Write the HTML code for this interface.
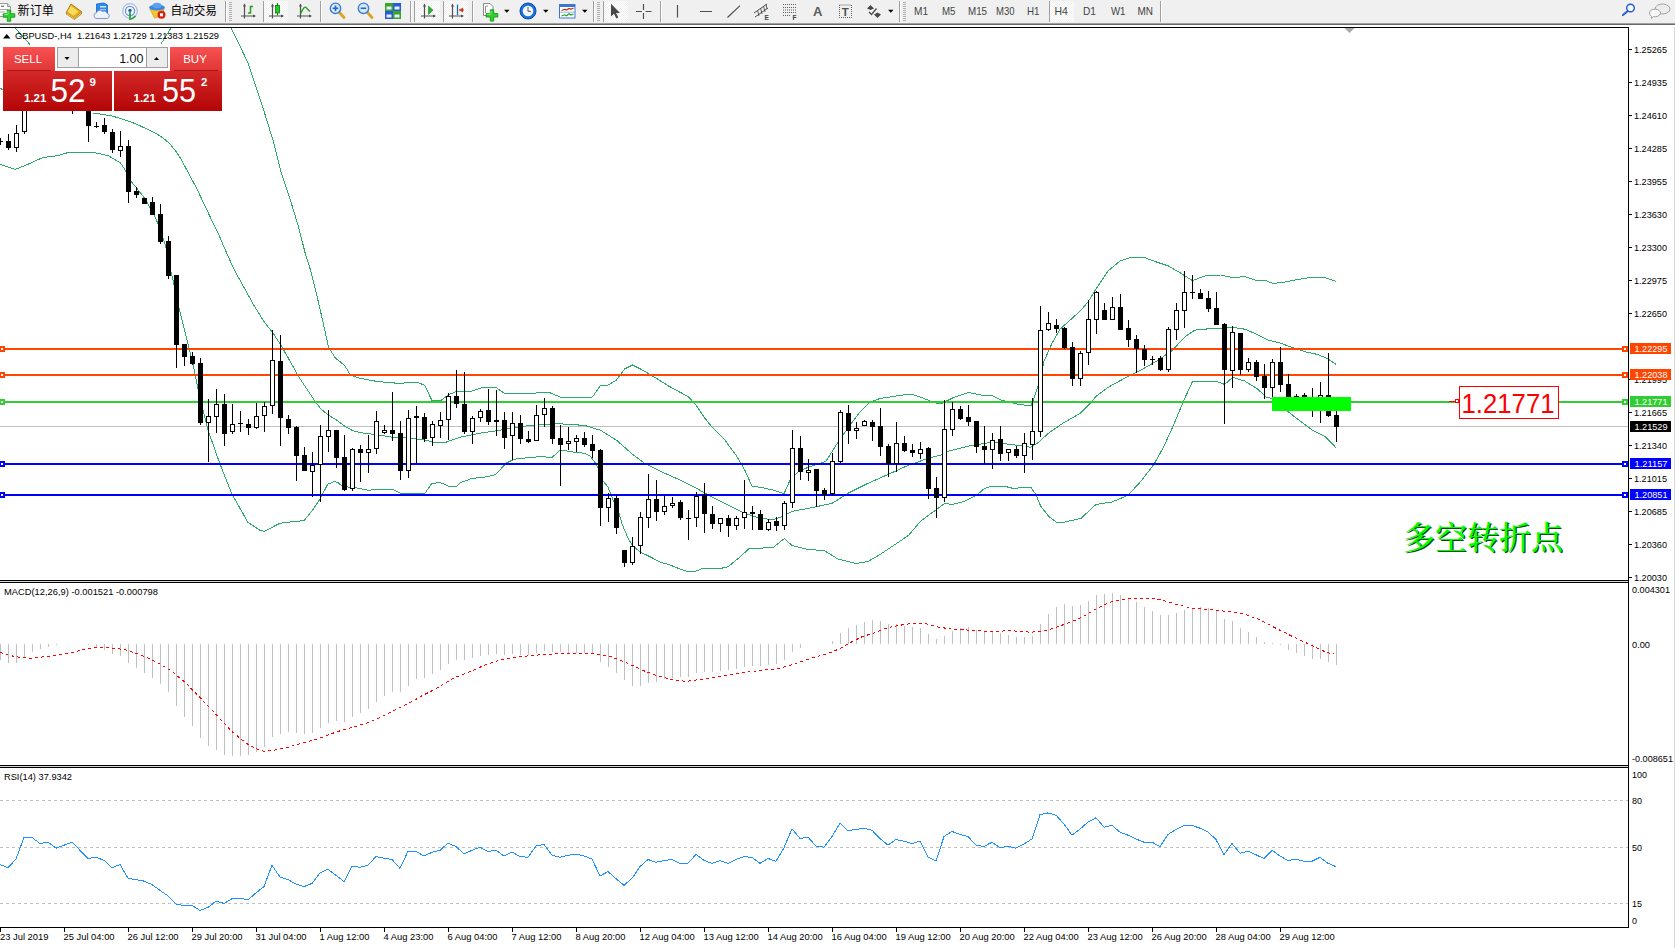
<!DOCTYPE html>
<html lang="zh"><head><meta charset="utf-8"><title>GBPUSD-,H4</title>
<style>
html,body{margin:0;padding:0;background:#fff;overflow:hidden}
svg{display:block}
text{font-family:"Liberation Sans", "Noto Sans CJK SC", sans-serif;font-size:9.5px;fill:#000}
.ax{font-size:9.5px}
.wl{fill:#fff}
.tf{font-size:10.5px;fill:#444}
.cn{font-size:12px;fill:#000}
</style></head><body>
<svg width="1675" height="948" viewBox="0 0 1675 948">
<defs>
<linearGradient id="rg" x1="0" y1="0" x2="0" y2="1"><stop offset="0" stop-color="#e03a3a"/><stop offset="0.35" stop-color="#d62a2a"/><stop offset="1" stop-color="#b30505"/></linearGradient>
<linearGradient id="rb" x1="0" y1="0" x2="0" y2="1"><stop offset="0" stop-color="#f95252"/><stop offset="1" stop-color="#e03636"/></linearGradient>
<pattern id="chk" width="2" height="2" patternUnits="userSpaceOnUse"><rect width="2" height="2" fill="#ffffff"/><rect width="1" height="1" fill="#f0f0f0"/><rect x="1" y="1" width="1" height="1" fill="#f0f0f0"/></pattern>
</defs>
<rect width="1675" height="948" fill="#fff"/>

<g id="chart" shape-rendering="crispEdges">
<rect x="0" y="426" width="1628" height="1" fill="#c0c0c0"/>
</g>
<g shape-rendering="crispEdges" stroke-linejoin="round">
<polyline points="15.0,28.0 30.0,44.4" fill="none" stroke="#2eaa68" stroke-width="1" />
<polyline points="160.7,44.4 171.0,28.0" fill="none" stroke="#2eaa68" stroke-width="1" />
<polyline points="231.0,28.0 239.5,45.0 248.0,63.0 260.8,101.0 273.4,141.5 281.0,171.8 291.0,202.2 298.7,227.5 305.1,252.8 310.5,270.0 316.5,294.0 322.5,320.0 328.6,347.3 335.6,358.3 344.6,365.3 350.6,375.4 360.7,378.4 376.7,381.4 398.8,383.4 416.8,382.0 424.9,385.4 431.9,400.5 440.9,400.5 448.9,394.4 457.0,391.4 460.0,392.0 472.0,391.0 484.0,387.0 496.0,387.5 504.0,393.0 520.0,394.0 536.0,393.0 548.0,392.0 560.0,397.0 576.4,398.0 592.4,397.0 600.4,385.5 608.4,385.0 616.5,380.0 624.5,369.0 632.5,365.0 640.5,369.0 652.6,376.0 668.6,386.0 688.7,397.0 696.7,406.0 704.7,418.0 712.8,428.0 724.8,440.0 736.8,456.3 744.9,470.3 751.9,486.0 760.9,487.4 773.0,490.0 784.0,493.8 790.0,480.3 800.0,470.3 826.0,461.2 838.0,442.2 848.0,428.0 860.0,412.0 870.0,402.0 880.0,398.5 896.3,396.0 910.4,394.0 920.4,397.0 932.5,402.0 940.5,404.0 952.5,398.0 968.6,392.4 980.6,395.0 992.6,396.0 1000.7,400.0 1016.7,404.0 1030.8,406.0 1034.8,396.0 1038.8,384.0 1044.0,361.3 1052.0,343.3 1060.0,329.2 1070.0,320.2 1080.0,311.2 1088.0,302.0 1096.0,289.0 1108.0,271.0 1120.0,261.0 1132.0,257.0 1144.0,257.4 1156.4,262.0 1168.4,266.0 1180.5,273.0 1192.5,280.7 1204.6,276.0 1220.6,275.0 1232.6,277.5 1244.7,276.7 1256.7,280.7 1264.7,280.0 1272.8,283.5 1284.8,282.0 1300.8,279.0 1310.9,277.5 1324.9,277.5 1336.0,281.5" fill="none" stroke="#2eaa68" stroke-width="1" />
<polyline points="0.0,87.8 3.0,90.0" fill="none" stroke="#2eaa68" stroke-width="1" />
<polyline points="93.3,113.0 112.3,116.0 120.4,118.5 130.4,121.7 140.4,126.0 148.4,129.7 156.5,133.7 164.5,139.1 170.5,144.5 176.5,152.2 180.5,158.2 188.6,173.2 196.6,188.3 204.2,204.3 211.8,220.4 219.5,236.4 225.3,250.0 234.3,270.0 244.3,288.0 254.3,306.0 264.4,322.2 272.4,332.2 280.4,344.3 288.4,358.3 298.5,376.4 306.5,388.4 314.5,400.5 320.5,408.5 328.6,415.3 336.6,420.0 344.6,426.0 352.6,430.7 360.7,432.8 376.7,434.6 392.8,437.3 408.8,438.0 424.9,440.0 436.9,443.0 445.0,442.5 461.0,437.0 480.0,433.2 500.0,430.2 520.0,426.6 540.0,424.6 560.3,423.8 584.4,425.4 600.4,430.2 616.5,440.2 632.5,454.3 644.6,463.3 660.6,471.3 680.7,480.4 696.7,488.4 712.8,497.4 728.8,505.4 744.9,513.5 760.9,518.5 773.0,519.5 780.0,517.4 792.0,511.4 808.0,508.4 832.0,503.4 848.0,493.3 868.0,483.3 888.3,474.3 908.4,465.3 928.4,458.2 940.5,455.2 948.5,451.2 972.6,445.2 992.6,442.2 1016.7,445.2 1030.8,447.2 1038.8,442.2 1048.0,433.5 1064.0,422.5 1080.0,413.5 1090.0,403.4 1096.0,396.4 1108.0,387.4 1124.3,378.4 1140.4,370.3 1156.4,361.3 1172.5,350.3 1184.5,337.2 1194.5,330.2 1208.6,328.8 1220.6,328.2 1232.6,327.2 1244.7,329.2 1256.7,334.2 1268.7,340.3 1280.8,343.3 1292.8,347.7 1304.9,351.7 1316.9,354.3 1326.9,358.3 1336.0,364.3" fill="none" stroke="#2eaa68" stroke-width="1" />
<polyline points="0.0,164.4 15.0,169.4 25.0,165.6 42.7,157.6 57.7,155.6 67.8,152.6 92.9,152.3 108.0,155.6 120.5,163.0 125.5,170.6 130.5,180.7 136.8,188.2 145.6,199.5 153.0,213.3 158.0,223.4 165.7,246.0 168.5,262.0 173.0,280.0 179.0,308.0 186.0,336.0 192.5,362.0 198.0,388.4 203.0,410.5 208.6,432.0 220.0,464.0 232.0,494.3 248.0,522.4 260.0,530.4 264.4,531.4 278.4,524.0 284.4,522.4 298.5,521.4 304.5,520.0 312.5,510.3 320.5,498.3 327.6,484.3 333.6,481.8 337.6,482.2 342.6,486.7 352.6,487.3 360.7,488.7 368.7,490.3 376.7,489.3 392.8,489.3 400.8,493.3 424.9,493.3 431.9,483.2 440.9,482.8 448.9,486.3 457.0,486.3 460.0,482.8 472.0,478.4 488.0,476.7 496.0,474.3 506.0,463.3 514.0,459.3 526.0,457.9 540.0,456.7 552.3,457.3 560.3,449.9 572.3,451.9 584.4,453.3 590.4,456.3 596.4,464.3 603.0,481.0 608.0,487.0 613.0,500.0 619.0,513.0 622.0,524.0 628.0,538.0 632.0,545.0 640.0,552.0 650.0,556.7 660.0,562.0 670.0,565.0 680.0,569.0 688.4,572.0 696.4,571.0 703.4,568.0 722.5,568.0 728.0,566.8 740.0,557.0 749.0,548.6 773.0,547.6 784.4,538.5 792.0,545.5 808.0,549.5 824.0,550.5 838.0,559.0 856.0,563.5 868.0,561.5 880.0,554.5 892.0,546.5 908.4,535.5 920.4,521.4 932.5,512.4 944.5,503.4 952.5,504.4 964.6,501.4 976.6,495.3 984.6,488.3 992.6,486.0 1004.7,486.3 1012.7,488.3 1030.8,487.3 1035.8,494.3 1040.8,506.4 1048.8,516.4 1056.8,522.4 1064.9,522.0 1080.9,518.4 1096.0,504.4 1112.0,502.0 1128.0,495.3 1140.0,482.3 1154.0,464.3 1164.0,446.2 1174.0,424.0 1184.0,400.0 1192.5,381.4 1216.6,381.4 1224.6,384.4 1232.6,377.4 1244.7,381.0 1256.7,388.4 1266.7,397.4 1272.0,398.4 1280.0,405.0 1287.8,411.5 1300.8,421.5 1312.9,430.5 1324.9,436.5 1333.0,444.6 1336.0,447.8" fill="none" stroke="#2eaa68" stroke-width="1" />
</g>
<g shape-rendering="crispEdges">
<rect x="0" y="348" width="1628" height="2" fill="#ff4500"/>
<rect x="-1" y="346" width="6" height="6" fill="#ff4500"/><rect x="1" y="348" width="2" height="2" fill="#fff"/>
<rect x="1622" y="346" width="6" height="6" fill="#ff4500"/><rect x="1624" y="348" width="2" height="2" fill="#fff"/>
<rect x="0" y="374" width="1628" height="2" fill="#ff4500"/>
<rect x="-1" y="372" width="6" height="6" fill="#ff4500"/><rect x="1" y="374" width="2" height="2" fill="#fff"/>
<rect x="1622" y="372" width="6" height="6" fill="#ff4500"/><rect x="1624" y="374" width="2" height="2" fill="#fff"/>
<rect x="0" y="401" width="1628" height="2" fill="#32cd32"/>
<rect x="-1" y="399" width="6" height="6" fill="#32cd32"/><rect x="1" y="401" width="2" height="2" fill="#fff"/>
<rect x="1622" y="399" width="6" height="6" fill="#32cd32"/><rect x="1624" y="401" width="2" height="2" fill="#fff"/>
<rect x="0" y="463" width="1628" height="2" fill="#0000ff"/>
<rect x="-1" y="461" width="6" height="6" fill="#0000ff"/><rect x="1" y="463" width="2" height="2" fill="#fff"/>
<rect x="1622" y="461" width="6" height="6" fill="#0000ff"/><rect x="1624" y="463" width="2" height="2" fill="#fff"/>
<rect x="0" y="494" width="1628" height="2" fill="#0000ff"/>
<rect x="-1" y="492" width="6" height="6" fill="#0000ff"/><rect x="1" y="494" width="2" height="2" fill="#fff"/>
<rect x="1622" y="492" width="6" height="6" fill="#0000ff"/><rect x="1624" y="494" width="2" height="2" fill="#fff"/>
<rect x="0" y="138" width="1" height="7" fill="#000"/>
<rect x="-2" y="141" width="5" height="1" fill="#000"/>
<rect x="8" y="134" width="1" height="16" fill="#000"/>
<rect x="6" y="141" width="5" height="7" fill="#000"/>
<rect x="16" y="125" width="1" height="27" fill="#000"/>
<rect x="14" y="133" width="5" height="15" fill="#000"/>
<rect x="15" y="134" width="3" height="13" fill="#fff"/>
<rect x="24" y="100" width="1" height="34" fill="#000"/>
<rect x="22" y="100" width="5" height="32" fill="#000"/>
<rect x="23" y="101" width="3" height="30" fill="#fff"/>
<rect x="72" y="100" width="1" height="14" fill="#000"/>
<rect x="70" y="100" width="5" height="1" fill="#000"/>
<rect x="88" y="100" width="1" height="42" fill="#000"/>
<rect x="86" y="100" width="5" height="26" fill="#000"/>
<rect x="96" y="122" width="1" height="6" fill="#000"/>
<rect x="94" y="126" width="5" height="1" fill="#000"/>
<rect x="104" y="118" width="1" height="16" fill="#000"/>
<rect x="102" y="125" width="5" height="7" fill="#000"/>
<rect x="112" y="129" width="1" height="24" fill="#000"/>
<rect x="110" y="132" width="5" height="18" fill="#000"/>
<rect x="120" y="131" width="1" height="26" fill="#000"/>
<rect x="118" y="146" width="5" height="5" fill="#000"/>
<rect x="119" y="147" width="3" height="3" fill="#fff"/>
<rect x="128" y="140" width="1" height="63" fill="#000"/>
<rect x="126" y="146" width="5" height="46" fill="#000"/>
<rect x="136" y="187" width="1" height="11" fill="#000"/>
<rect x="134" y="191" width="5" height="4" fill="#000"/>
<rect x="144" y="198" width="1" height="6" fill="#000"/>
<rect x="142" y="198" width="5" height="6" fill="#000"/>
<rect x="152" y="197" width="1" height="18" fill="#000"/>
<rect x="150" y="202" width="5" height="13" fill="#000"/>
<rect x="160" y="204" width="1" height="40" fill="#000"/>
<rect x="158" y="214" width="5" height="28" fill="#000"/>
<rect x="168" y="236" width="1" height="43" fill="#000"/>
<rect x="166" y="241" width="5" height="35" fill="#000"/>
<rect x="176" y="275" width="1" height="93" fill="#000"/>
<rect x="174" y="275" width="5" height="70" fill="#000"/>
<rect x="184" y="344" width="1" height="22" fill="#000"/>
<rect x="182" y="344" width="5" height="13" fill="#000"/>
<rect x="192" y="352" width="1" height="13" fill="#000"/>
<rect x="190" y="356" width="5" height="8" fill="#000"/>
<rect x="200" y="358" width="1" height="67" fill="#000"/>
<rect x="198" y="363" width="5" height="60" fill="#000"/>
<rect x="208" y="399" width="1" height="63" fill="#000"/>
<rect x="206" y="416" width="5" height="7" fill="#000"/>
<rect x="207" y="417" width="3" height="5" fill="#fff"/>
<rect x="216" y="389" width="1" height="44" fill="#000"/>
<rect x="214" y="404" width="5" height="13" fill="#000"/>
<rect x="215" y="405" width="3" height="11" fill="#fff"/>
<rect x="224" y="394" width="1" height="52" fill="#000"/>
<rect x="222" y="404" width="5" height="30" fill="#000"/>
<rect x="232" y="404" width="1" height="30" fill="#000"/>
<rect x="230" y="424" width="5" height="8" fill="#000"/>
<rect x="231" y="425" width="3" height="6" fill="#fff"/>
<rect x="240" y="411" width="1" height="21" fill="#000"/>
<rect x="238" y="423" width="5" height="1" fill="#000"/>
<rect x="248" y="419" width="1" height="16" fill="#000"/>
<rect x="246" y="424" width="5" height="4" fill="#000"/>
<rect x="256" y="403" width="1" height="26" fill="#000"/>
<rect x="254" y="416" width="5" height="12" fill="#000"/>
<rect x="255" y="417" width="3" height="10" fill="#fff"/>
<rect x="264" y="402" width="1" height="30" fill="#000"/>
<rect x="262" y="406" width="5" height="10" fill="#000"/>
<rect x="263" y="407" width="3" height="8" fill="#fff"/>
<rect x="272" y="330" width="1" height="84" fill="#000"/>
<rect x="270" y="360" width="5" height="46" fill="#000"/>
<rect x="271" y="361" width="3" height="44" fill="#fff"/>
<rect x="280" y="335" width="1" height="111" fill="#000"/>
<rect x="278" y="361" width="5" height="57" fill="#000"/>
<rect x="288" y="415" width="1" height="19" fill="#000"/>
<rect x="286" y="419" width="5" height="9" fill="#000"/>
<rect x="296" y="426" width="1" height="55" fill="#000"/>
<rect x="294" y="427" width="5" height="29" fill="#000"/>
<rect x="304" y="447" width="1" height="24" fill="#000"/>
<rect x="302" y="455" width="5" height="16" fill="#000"/>
<rect x="312" y="452" width="1" height="45" fill="#000"/>
<rect x="310" y="465" width="5" height="7" fill="#000"/>
<rect x="311" y="466" width="3" height="5" fill="#fff"/>
<rect x="320" y="425" width="1" height="77" fill="#000"/>
<rect x="318" y="436" width="5" height="29" fill="#000"/>
<rect x="319" y="437" width="3" height="27" fill="#fff"/>
<rect x="328" y="410" width="1" height="42" fill="#000"/>
<rect x="326" y="430" width="5" height="7" fill="#000"/>
<rect x="327" y="431" width="3" height="5" fill="#fff"/>
<rect x="336" y="430" width="1" height="38" fill="#000"/>
<rect x="334" y="430" width="5" height="28" fill="#000"/>
<rect x="344" y="435" width="1" height="56" fill="#000"/>
<rect x="342" y="457" width="5" height="33" fill="#000"/>
<rect x="352" y="448" width="1" height="43" fill="#000"/>
<rect x="350" y="449" width="5" height="40" fill="#000"/>
<rect x="351" y="450" width="3" height="38" fill="#fff"/>
<rect x="360" y="445" width="1" height="37" fill="#000"/>
<rect x="358" y="449" width="5" height="4" fill="#000"/>
<rect x="368" y="435" width="1" height="38" fill="#000"/>
<rect x="366" y="449" width="5" height="4" fill="#000"/>
<rect x="367" y="450" width="3" height="2" fill="#fff"/>
<rect x="376" y="411" width="1" height="43" fill="#000"/>
<rect x="374" y="421" width="5" height="28" fill="#000"/>
<rect x="375" y="422" width="3" height="26" fill="#fff"/>
<rect x="384" y="425" width="1" height="9" fill="#000"/>
<rect x="382" y="430" width="5" height="3" fill="#000"/>
<rect x="383" y="431" width="3" height="1" fill="#fff"/>
<rect x="392" y="392" width="1" height="49" fill="#000"/>
<rect x="390" y="430" width="5" height="4" fill="#000"/>
<rect x="400" y="421" width="1" height="59" fill="#000"/>
<rect x="398" y="433" width="5" height="38" fill="#000"/>
<rect x="408" y="410" width="1" height="68" fill="#000"/>
<rect x="406" y="418" width="5" height="53" fill="#000"/>
<rect x="407" y="419" width="3" height="51" fill="#fff"/>
<rect x="416" y="406" width="1" height="57" fill="#000"/>
<rect x="414" y="416" width="5" height="2" fill="#000"/>
<rect x="424" y="413" width="1" height="29" fill="#000"/>
<rect x="422" y="417" width="5" height="22" fill="#000"/>
<rect x="432" y="421" width="1" height="25" fill="#000"/>
<rect x="430" y="424" width="5" height="14" fill="#000"/>
<rect x="431" y="425" width="3" height="12" fill="#fff"/>
<rect x="440" y="412" width="1" height="26" fill="#000"/>
<rect x="438" y="420" width="5" height="6" fill="#000"/>
<rect x="439" y="421" width="3" height="4" fill="#fff"/>
<rect x="448" y="393" width="1" height="47" fill="#000"/>
<rect x="446" y="396" width="5" height="24" fill="#000"/>
<rect x="447" y="397" width="3" height="22" fill="#fff"/>
<rect x="456" y="370" width="1" height="38" fill="#000"/>
<rect x="454" y="396" width="5" height="8" fill="#000"/>
<rect x="464" y="372" width="1" height="62" fill="#000"/>
<rect x="462" y="404" width="5" height="28" fill="#000"/>
<rect x="472" y="416" width="1" height="28" fill="#000"/>
<rect x="470" y="418" width="5" height="14" fill="#000"/>
<rect x="471" y="419" width="3" height="12" fill="#fff"/>
<rect x="480" y="409" width="1" height="13" fill="#000"/>
<rect x="478" y="411" width="5" height="7" fill="#000"/>
<rect x="479" y="412" width="3" height="5" fill="#fff"/>
<rect x="488" y="389" width="1" height="36" fill="#000"/>
<rect x="486" y="410" width="5" height="12" fill="#000"/>
<rect x="496" y="390" width="1" height="46" fill="#000"/>
<rect x="494" y="420" width="5" height="2" fill="#000"/>
<rect x="504" y="412" width="1" height="37" fill="#000"/>
<rect x="502" y="420" width="5" height="18" fill="#000"/>
<rect x="512" y="412" width="1" height="48" fill="#000"/>
<rect x="510" y="423" width="5" height="13" fill="#000"/>
<rect x="511" y="424" width="3" height="11" fill="#fff"/>
<rect x="520" y="415" width="1" height="29" fill="#000"/>
<rect x="518" y="423" width="5" height="16" fill="#000"/>
<rect x="528" y="431" width="1" height="12" fill="#000"/>
<rect x="526" y="439" width="5" height="3" fill="#000"/>
<rect x="536" y="405" width="1" height="36" fill="#000"/>
<rect x="534" y="415" width="5" height="26" fill="#000"/>
<rect x="535" y="416" width="3" height="24" fill="#fff"/>
<rect x="544" y="398" width="1" height="29" fill="#000"/>
<rect x="542" y="408" width="5" height="7" fill="#000"/>
<rect x="543" y="409" width="3" height="5" fill="#fff"/>
<rect x="552" y="406" width="1" height="38" fill="#000"/>
<rect x="550" y="408" width="5" height="31" fill="#000"/>
<rect x="560" y="425" width="1" height="61" fill="#000"/>
<rect x="558" y="438" width="5" height="7" fill="#000"/>
<rect x="568" y="427" width="1" height="23" fill="#000"/>
<rect x="566" y="441" width="5" height="3" fill="#000"/>
<rect x="567" y="442" width="3" height="1" fill="#fff"/>
<rect x="576" y="435" width="1" height="17" fill="#000"/>
<rect x="574" y="438" width="5" height="4" fill="#000"/>
<rect x="575" y="439" width="3" height="2" fill="#fff"/>
<rect x="584" y="432" width="1" height="15" fill="#000"/>
<rect x="582" y="438" width="5" height="7" fill="#000"/>
<rect x="592" y="435" width="1" height="23" fill="#000"/>
<rect x="590" y="444" width="5" height="7" fill="#000"/>
<rect x="600" y="449" width="1" height="77" fill="#000"/>
<rect x="598" y="450" width="5" height="58" fill="#000"/>
<rect x="608" y="493" width="1" height="29" fill="#000"/>
<rect x="606" y="498" width="5" height="10" fill="#000"/>
<rect x="607" y="499" width="3" height="8" fill="#fff"/>
<rect x="616" y="495" width="1" height="39" fill="#000"/>
<rect x="614" y="498" width="5" height="30" fill="#000"/>
<rect x="624" y="550" width="1" height="17" fill="#000"/>
<rect x="622" y="550" width="5" height="13" fill="#000"/>
<rect x="632" y="537" width="1" height="28" fill="#000"/>
<rect x="630" y="546" width="5" height="17" fill="#000"/>
<rect x="631" y="547" width="3" height="15" fill="#fff"/>
<rect x="640" y="512" width="1" height="42" fill="#000"/>
<rect x="638" y="517" width="5" height="29" fill="#000"/>
<rect x="639" y="518" width="3" height="27" fill="#fff"/>
<rect x="648" y="474" width="1" height="54" fill="#000"/>
<rect x="646" y="499" width="5" height="19" fill="#000"/>
<rect x="647" y="500" width="3" height="17" fill="#fff"/>
<rect x="656" y="480" width="1" height="41" fill="#000"/>
<rect x="654" y="499" width="5" height="13" fill="#000"/>
<rect x="664" y="496" width="1" height="19" fill="#000"/>
<rect x="662" y="506" width="5" height="6" fill="#000"/>
<rect x="663" y="507" width="3" height="4" fill="#fff"/>
<rect x="672" y="497" width="1" height="11" fill="#000"/>
<rect x="670" y="503" width="5" height="3" fill="#000"/>
<rect x="671" y="504" width="3" height="1" fill="#fff"/>
<rect x="680" y="500" width="1" height="20" fill="#000"/>
<rect x="678" y="502" width="5" height="16" fill="#000"/>
<rect x="688" y="510" width="1" height="30" fill="#000"/>
<rect x="686" y="518" width="5" height="1" fill="#000"/>
<rect x="696" y="492" width="1" height="35" fill="#000"/>
<rect x="694" y="496" width="5" height="22" fill="#000"/>
<rect x="695" y="497" width="3" height="20" fill="#fff"/>
<rect x="704" y="483" width="1" height="50" fill="#000"/>
<rect x="702" y="495" width="5" height="19" fill="#000"/>
<rect x="712" y="506" width="1" height="23" fill="#000"/>
<rect x="710" y="514" width="5" height="10" fill="#000"/>
<rect x="720" y="518" width="1" height="14" fill="#000"/>
<rect x="718" y="518" width="5" height="6" fill="#000"/>
<rect x="719" y="519" width="3" height="4" fill="#fff"/>
<rect x="728" y="515" width="1" height="22" fill="#000"/>
<rect x="726" y="518" width="5" height="8" fill="#000"/>
<rect x="736" y="516" width="1" height="14" fill="#000"/>
<rect x="734" y="518" width="5" height="8" fill="#000"/>
<rect x="735" y="519" width="3" height="6" fill="#fff"/>
<rect x="744" y="480" width="1" height="49" fill="#000"/>
<rect x="742" y="512" width="5" height="6" fill="#000"/>
<rect x="743" y="513" width="3" height="4" fill="#fff"/>
<rect x="752" y="506" width="1" height="24" fill="#000"/>
<rect x="750" y="512" width="5" height="2" fill="#000"/>
<rect x="760" y="510" width="1" height="20" fill="#000"/>
<rect x="758" y="514" width="5" height="16" fill="#000"/>
<rect x="768" y="519" width="1" height="12" fill="#000"/>
<rect x="766" y="522" width="5" height="8" fill="#000"/>
<rect x="767" y="523" width="3" height="6" fill="#fff"/>
<rect x="776" y="517" width="1" height="14" fill="#000"/>
<rect x="774" y="521" width="5" height="5" fill="#000"/>
<rect x="784" y="501" width="1" height="29" fill="#000"/>
<rect x="782" y="503" width="5" height="23" fill="#000"/>
<rect x="783" y="504" width="3" height="21" fill="#fff"/>
<rect x="792" y="430" width="1" height="78" fill="#000"/>
<rect x="790" y="448" width="5" height="55" fill="#000"/>
<rect x="791" y="449" width="3" height="53" fill="#fff"/>
<rect x="800" y="436" width="1" height="44" fill="#000"/>
<rect x="798" y="448" width="5" height="24" fill="#000"/>
<rect x="808" y="459" width="1" height="22" fill="#000"/>
<rect x="806" y="470" width="5" height="3" fill="#000"/>
<rect x="807" y="471" width="3" height="1" fill="#fff"/>
<rect x="816" y="469" width="1" height="38" fill="#000"/>
<rect x="814" y="469" width="5" height="22" fill="#000"/>
<rect x="824" y="488" width="1" height="12" fill="#000"/>
<rect x="822" y="490" width="5" height="5" fill="#000"/>
<rect x="832" y="453" width="1" height="43" fill="#000"/>
<rect x="830" y="461" width="5" height="33" fill="#000"/>
<rect x="831" y="462" width="3" height="31" fill="#fff"/>
<rect x="840" y="410" width="1" height="53" fill="#000"/>
<rect x="838" y="412" width="5" height="50" fill="#000"/>
<rect x="839" y="413" width="3" height="48" fill="#fff"/>
<rect x="848" y="405" width="1" height="39" fill="#000"/>
<rect x="846" y="413" width="5" height="18" fill="#000"/>
<rect x="856" y="422" width="1" height="17" fill="#000"/>
<rect x="854" y="428" width="5" height="3" fill="#000"/>
<rect x="855" y="429" width="3" height="1" fill="#fff"/>
<rect x="864" y="420" width="1" height="6" fill="#000"/>
<rect x="862" y="421" width="5" height="5" fill="#000"/>
<rect x="863" y="422" width="3" height="3" fill="#fff"/>
<rect x="872" y="420" width="1" height="21" fill="#000"/>
<rect x="870" y="422" width="5" height="5" fill="#000"/>
<rect x="880" y="408" width="1" height="48" fill="#000"/>
<rect x="878" y="426" width="5" height="21" fill="#000"/>
<rect x="888" y="444" width="1" height="33" fill="#000"/>
<rect x="886" y="446" width="5" height="18" fill="#000"/>
<rect x="896" y="422" width="1" height="50" fill="#000"/>
<rect x="894" y="443" width="5" height="21" fill="#000"/>
<rect x="895" y="444" width="3" height="19" fill="#fff"/>
<rect x="904" y="436" width="1" height="16" fill="#000"/>
<rect x="902" y="443" width="5" height="8" fill="#000"/>
<rect x="912" y="444" width="1" height="13" fill="#000"/>
<rect x="910" y="450" width="5" height="3" fill="#000"/>
<rect x="920" y="442" width="1" height="17" fill="#000"/>
<rect x="918" y="449" width="5" height="5" fill="#000"/>
<rect x="919" y="450" width="3" height="3" fill="#fff"/>
<rect x="928" y="447" width="1" height="52" fill="#000"/>
<rect x="926" y="448" width="5" height="41" fill="#000"/>
<rect x="936" y="477" width="1" height="41" fill="#000"/>
<rect x="934" y="488" width="5" height="10" fill="#000"/>
<rect x="944" y="400" width="1" height="102" fill="#000"/>
<rect x="942" y="429" width="5" height="69" fill="#000"/>
<rect x="943" y="430" width="3" height="67" fill="#fff"/>
<rect x="952" y="402" width="1" height="34" fill="#000"/>
<rect x="950" y="409" width="5" height="21" fill="#000"/>
<rect x="951" y="410" width="3" height="19" fill="#fff"/>
<rect x="960" y="406" width="1" height="14" fill="#000"/>
<rect x="958" y="409" width="5" height="10" fill="#000"/>
<rect x="968" y="405" width="1" height="21" fill="#000"/>
<rect x="966" y="417" width="5" height="5" fill="#000"/>
<rect x="976" y="421" width="1" height="32" fill="#000"/>
<rect x="974" y="421" width="5" height="26" fill="#000"/>
<rect x="984" y="426" width="1" height="38" fill="#000"/>
<rect x="982" y="446" width="5" height="4" fill="#000"/>
<rect x="992" y="433" width="1" height="36" fill="#000"/>
<rect x="990" y="440" width="5" height="10" fill="#000"/>
<rect x="991" y="441" width="3" height="8" fill="#fff"/>
<rect x="1000" y="426" width="1" height="35" fill="#000"/>
<rect x="998" y="439" width="5" height="15" fill="#000"/>
<rect x="1008" y="449" width="1" height="12" fill="#000"/>
<rect x="1006" y="449" width="5" height="4" fill="#000"/>
<rect x="1007" y="450" width="3" height="2" fill="#fff"/>
<rect x="1016" y="446" width="1" height="12" fill="#000"/>
<rect x="1014" y="449" width="5" height="7" fill="#000"/>
<rect x="1024" y="433" width="1" height="40" fill="#000"/>
<rect x="1022" y="443" width="5" height="13" fill="#000"/>
<rect x="1023" y="444" width="3" height="11" fill="#fff"/>
<rect x="1032" y="398" width="1" height="62" fill="#000"/>
<rect x="1030" y="431" width="5" height="14" fill="#000"/>
<rect x="1031" y="432" width="3" height="12" fill="#fff"/>
<rect x="1040" y="306" width="1" height="131" fill="#000"/>
<rect x="1038" y="330" width="5" height="102" fill="#000"/>
<rect x="1039" y="331" width="3" height="100" fill="#fff"/>
<rect x="1048" y="312" width="1" height="19" fill="#000"/>
<rect x="1046" y="323" width="5" height="7" fill="#000"/>
<rect x="1047" y="324" width="3" height="5" fill="#fff"/>
<rect x="1056" y="319" width="1" height="14" fill="#000"/>
<rect x="1054" y="325" width="5" height="4" fill="#000"/>
<rect x="1064" y="327" width="1" height="22" fill="#000"/>
<rect x="1062" y="328" width="5" height="20" fill="#000"/>
<rect x="1072" y="342" width="1" height="44" fill="#000"/>
<rect x="1070" y="347" width="5" height="32" fill="#000"/>
<rect x="1080" y="351" width="1" height="35" fill="#000"/>
<rect x="1078" y="353" width="5" height="26" fill="#000"/>
<rect x="1079" y="354" width="3" height="24" fill="#fff"/>
<rect x="1088" y="300" width="1" height="65" fill="#000"/>
<rect x="1086" y="319" width="5" height="34" fill="#000"/>
<rect x="1087" y="320" width="3" height="32" fill="#fff"/>
<rect x="1096" y="291" width="1" height="43" fill="#000"/>
<rect x="1094" y="292" width="5" height="28" fill="#000"/>
<rect x="1095" y="293" width="3" height="26" fill="#fff"/>
<rect x="1104" y="303" width="1" height="17" fill="#000"/>
<rect x="1102" y="310" width="5" height="10" fill="#000"/>
<rect x="1112" y="297" width="1" height="23" fill="#000"/>
<rect x="1110" y="307" width="5" height="13" fill="#000"/>
<rect x="1111" y="308" width="3" height="11" fill="#fff"/>
<rect x="1120" y="294" width="1" height="36" fill="#000"/>
<rect x="1118" y="307" width="5" height="23" fill="#000"/>
<rect x="1128" y="320" width="1" height="27" fill="#000"/>
<rect x="1126" y="328" width="5" height="12" fill="#000"/>
<rect x="1136" y="335" width="1" height="38" fill="#000"/>
<rect x="1134" y="339" width="5" height="10" fill="#000"/>
<rect x="1144" y="345" width="1" height="21" fill="#000"/>
<rect x="1142" y="349" width="5" height="11" fill="#000"/>
<rect x="1152" y="356" width="1" height="9" fill="#000"/>
<rect x="1150" y="359" width="5" height="1" fill="#000"/>
<rect x="1160" y="356" width="1" height="15" fill="#000"/>
<rect x="1158" y="358" width="5" height="12" fill="#000"/>
<rect x="1168" y="327" width="1" height="45" fill="#000"/>
<rect x="1166" y="329" width="5" height="41" fill="#000"/>
<rect x="1167" y="330" width="3" height="39" fill="#fff"/>
<rect x="1176" y="303" width="1" height="37" fill="#000"/>
<rect x="1174" y="310" width="5" height="20" fill="#000"/>
<rect x="1175" y="311" width="3" height="18" fill="#fff"/>
<rect x="1184" y="271" width="1" height="57" fill="#000"/>
<rect x="1182" y="292" width="5" height="19" fill="#000"/>
<rect x="1183" y="293" width="3" height="17" fill="#fff"/>
<rect x="1192" y="275" width="1" height="24" fill="#000"/>
<rect x="1190" y="292" width="5" height="1" fill="#000"/>
<rect x="1200" y="289" width="1" height="10" fill="#000"/>
<rect x="1198" y="293" width="5" height="6" fill="#000"/>
<rect x="1208" y="291" width="1" height="21" fill="#000"/>
<rect x="1206" y="298" width="5" height="11" fill="#000"/>
<rect x="1216" y="292" width="1" height="33" fill="#000"/>
<rect x="1214" y="308" width="5" height="17" fill="#000"/>
<rect x="1224" y="323" width="1" height="101" fill="#000"/>
<rect x="1222" y="324" width="5" height="46" fill="#000"/>
<rect x="1232" y="326" width="1" height="62" fill="#000"/>
<rect x="1230" y="332" width="5" height="39" fill="#000"/>
<rect x="1231" y="333" width="3" height="37" fill="#fff"/>
<rect x="1240" y="333" width="1" height="42" fill="#000"/>
<rect x="1238" y="333" width="5" height="37" fill="#000"/>
<rect x="1248" y="358" width="1" height="14" fill="#000"/>
<rect x="1246" y="362" width="5" height="8" fill="#000"/>
<rect x="1247" y="363" width="3" height="6" fill="#fff"/>
<rect x="1256" y="360" width="1" height="21" fill="#000"/>
<rect x="1254" y="362" width="5" height="15" fill="#000"/>
<rect x="1264" y="364" width="1" height="35" fill="#000"/>
<rect x="1262" y="376" width="5" height="12" fill="#000"/>
<rect x="1272" y="359" width="1" height="39" fill="#000"/>
<rect x="1270" y="362" width="5" height="26" fill="#000"/>
<rect x="1271" y="363" width="3" height="24" fill="#fff"/>
<rect x="1280" y="347" width="1" height="45" fill="#000"/>
<rect x="1278" y="362" width="5" height="23" fill="#000"/>
<rect x="1288" y="374" width="1" height="28" fill="#000"/>
<rect x="1286" y="384" width="5" height="14" fill="#000"/>
<rect x="1296" y="394" width="1" height="8" fill="#000"/>
<rect x="1294" y="396" width="5" height="2" fill="#000"/>
<rect x="1304" y="393" width="1" height="9" fill="#000"/>
<rect x="1302" y="395" width="5" height="4" fill="#000"/>
<rect x="1312" y="388" width="1" height="29" fill="#000"/>
<rect x="1310" y="400" width="5" height="1" fill="#000"/>
<rect x="1320" y="382" width="1" height="41" fill="#000"/>
<rect x="1318" y="395" width="5" height="5" fill="#000"/>
<rect x="1319" y="396" width="3" height="3" fill="#fff"/>
<rect x="1328" y="353" width="1" height="64" fill="#000"/>
<rect x="1326" y="395" width="5" height="21" fill="#000"/>
<rect x="1336" y="411" width="1" height="31" fill="#000"/>
<rect x="1334" y="415" width="5" height="12" fill="#000"/>
<rect x="1272" y="397" width="79" height="14" fill="#00ff00"/>
</g>
<g shape-rendering="crispEdges"><rect x="1449" y="401" width="8" height="1" fill="#ff0000"/><rect x="1455.5" y="399.5" width="3" height="3" fill="#fff" stroke="#ff0000"/>
<rect x="1459.5" y="386.5" width="99" height="32" fill="#fff" stroke="#ff0000" stroke-width="1"/></g>
<text x="1461.500" y="413" textLength="93" lengthAdjust="spacingAndGlyphs" style="font-size:27.5px;fill:#ff0000">1.21771</text>
<text x="1404.200" y="549.700" textLength="160" lengthAdjust="spacingAndGlyphs" style="font-size:32px;font-weight:500;fill:#0a4a0a;font-family:'Liberation Serif', 'Noto Serif CJK SC', serif">多空转折点</text>
<text x="1403" y="548.500" textLength="160" lengthAdjust="spacingAndGlyphs" style="font-size:32px;font-weight:500;fill:#00ff00;font-family:'Liberation Serif', 'Noto Serif CJK SC', serif">多空转折点</text>
<g shape-rendering="crispEdges">
<rect x="3" y="47" width="109" height="64" fill="url(#rg)"/>
<rect x="114" y="47" width="108" height="64" fill="url(#rg)"/>
<rect x="3" y="47" width="52" height="24" fill="url(#rb)"/>
<rect x="170" y="47" width="52" height="24" fill="url(#rb)"/>
<rect x="7" y="70" width="44" height="1" fill="#a81818"/>
<rect x="174" y="70" width="44" height="1" fill="#a81818"/>
<rect x="55" y="47" width="115" height="24" fill="#fff"/>
<rect x="57.5" y="47.500" width="110" height="20" fill="#fff" stroke="#a0a0a0"/>
<rect x="58" y="48" width="20" height="19" fill="#ececec"/>
<rect x="147" y="48" width="20" height="19" fill="#ececec"/>
<rect x="78" y="48" width="1" height="19" fill="#a0a0a0"/><rect x="146" y="48" width="1" height="19" fill="#a0a0a0"/>
</g>
<path d="M64.5 57 L69.500 57 L67 60 Z" fill="#000"/><path d="M154 60 L159 60 L156.500 57 Z" fill="#000"/>
<text x="143.500" y="62.500" text-anchor="end" style="font-size:12.500px;fill:#111">1.00</text>
<text x="28" y="63" text-anchor="middle" style="font-size:11.500px;fill:#fff">SELL</text>
<text x="195" y="63" text-anchor="middle" style="font-size:11.500px;fill:#fff">BUY</text>
<text x="24" y="101.500" style="font-size:11.5px;font-weight:700;fill:#fff">1.21</text>
<text x="50.500" y="101.500" textLength="35" lengthAdjust="spacingAndGlyphs" style="font-size:33px;fill:#fff">52</text>
<text x="89.500" y="86" style="font-size:11.5px;font-weight:700;fill:#fff">9</text>
<text x="133.500" y="101.500" style="font-size:11.5px;font-weight:700;fill:#fff">1.21</text>
<text x="162" y="101.500" textLength="34" lengthAdjust="spacingAndGlyphs" style="font-size:33px;fill:#fff">55</text>
<text x="201" y="86" style="font-size:11.5px;font-weight:700;fill:#fff">2</text>
<path d="M3 38.500 L10.500 38.500 L6.750 34 Z" fill="#000"/>
<text x="15" y="38.700" textLength="204" lengthAdjust="spacingAndGlyphs" style="white-space:pre">GBPUSD-,H4  1.21643 1.21729 1.21383 1.21529</text>
<path d="M1344.500 28 L1354.500 28 L1349.500 33 Z" fill="#a8a8a8"/>
<g shape-rendering="crispEdges">
<rect x="0" y="27" width="1629" height="1" fill="#000"/>
<rect x="1628" y="27" width="1" height="901" fill="#000"/>
<rect x="0" y="580" width="1629" height="1" fill="#000"/><rect x="0" y="581" width="1628" height="1" fill="#d8d8d8"/><rect x="0" y="582" width="1629" height="1" fill="#000"/>
<rect x="0" y="765" width="1629" height="1" fill="#000"/><rect x="0" y="766" width="1628" height="1" fill="#d8d8d8"/><rect x="0" y="767" width="1629" height="1" fill="#000"/>
<rect x="0" y="927" width="1629" height="1" fill="#000"/>
<rect x="1674" y="25" width="1" height="923" fill="#d8d8d8"/>
</g>
<g shape-rendering="crispEdges">
<rect x="1629" y="49" width="3" height="1" fill="#000"/>
<rect x="1629" y="82" width="3" height="1" fill="#000"/>
<rect x="1629" y="115" width="3" height="1" fill="#000"/>
<rect x="1629" y="148" width="3" height="1" fill="#000"/>
<rect x="1629" y="181" width="3" height="1" fill="#000"/>
<rect x="1629" y="214" width="3" height="1" fill="#000"/>
<rect x="1629" y="247" width="3" height="1" fill="#000"/>
<rect x="1629" y="280" width="3" height="1" fill="#000"/>
<rect x="1629" y="313" width="3" height="1" fill="#000"/>
<rect x="1629" y="379" width="3" height="1" fill="#000"/>
<rect x="1629" y="412" width="3" height="1" fill="#000"/>
<rect x="1629" y="445" width="3" height="1" fill="#000"/>
<rect x="1629" y="478" width="3" height="1" fill="#000"/>
<rect x="1629" y="511" width="3" height="1" fill="#000"/>
<rect x="1629" y="544" width="3" height="1" fill="#000"/>
<rect x="1629" y="577" width="3" height="1" fill="#000"/>
</g>
<text class="ax" x="1634" y="52.5" textLength="33" lengthAdjust="spacingAndGlyphs">1.25265</text>
<text class="ax" x="1634" y="85.5" textLength="33" lengthAdjust="spacingAndGlyphs">1.24935</text>
<text class="ax" x="1634" y="118.5" textLength="33" lengthAdjust="spacingAndGlyphs">1.24610</text>
<text class="ax" x="1634" y="151.5" textLength="33" lengthAdjust="spacingAndGlyphs">1.24285</text>
<text class="ax" x="1634" y="184.5" textLength="33" lengthAdjust="spacingAndGlyphs">1.23955</text>
<text class="ax" x="1634" y="217.5" textLength="33" lengthAdjust="spacingAndGlyphs">1.23630</text>
<text class="ax" x="1634" y="250.5" textLength="33" lengthAdjust="spacingAndGlyphs">1.23300</text>
<text class="ax" x="1634" y="283.5" textLength="33" lengthAdjust="spacingAndGlyphs">1.22975</text>
<text class="ax" x="1634" y="316.5" textLength="33" lengthAdjust="spacingAndGlyphs">1.22650</text>
<text class="ax" x="1634" y="382.5" textLength="33" lengthAdjust="spacingAndGlyphs">1.21995</text>
<text class="ax" x="1634" y="415.5" textLength="33" lengthAdjust="spacingAndGlyphs">1.21665</text>
<text class="ax" x="1634" y="448.5" textLength="33" lengthAdjust="spacingAndGlyphs">1.21340</text>
<text class="ax" x="1634" y="481.5" textLength="33" lengthAdjust="spacingAndGlyphs">1.21015</text>
<text class="ax" x="1634" y="514.5" textLength="33" lengthAdjust="spacingAndGlyphs">1.20685</text>
<text class="ax" x="1634" y="547.5" textLength="33" lengthAdjust="spacingAndGlyphs">1.20360</text>
<text class="ax" x="1634" y="580.5" textLength="33" lengthAdjust="spacingAndGlyphs">1.20030</text>
<rect x="1630" y="343" width="41" height="11" fill="#ff4500" shape-rendering="crispEdges"/>
<text class="ax wl" x="1634.500" y="351.5" textLength="33" lengthAdjust="spacingAndGlyphs" fill="#fff" style="fill:#fff">1.22295</text>
<rect x="1630" y="369" width="41" height="11" fill="#ff4500" shape-rendering="crispEdges"/>
<text class="ax wl" x="1634.500" y="377.5" textLength="33" lengthAdjust="spacingAndGlyphs" fill="#fff" style="fill:#fff">1.22038</text>
<rect x="1630" y="396" width="41" height="11" fill="#32cd32" shape-rendering="crispEdges"/>
<text class="ax wl" x="1634.500" y="404.5" textLength="33" lengthAdjust="spacingAndGlyphs" fill="#fff" style="fill:#fff">1.21771</text>
<rect x="1630" y="421" width="41" height="11" fill="#000" shape-rendering="crispEdges"/>
<text class="ax wl" x="1634.500" y="429.5" textLength="33" lengthAdjust="spacingAndGlyphs" fill="#fff" style="fill:#fff">1.21529</text>
<rect x="1630" y="458" width="41" height="11" fill="#0000ff" shape-rendering="crispEdges"/>
<text class="ax wl" x="1634.500" y="466.5" textLength="33" lengthAdjust="spacingAndGlyphs" fill="#fff" style="fill:#fff">1.21157</text>
<rect x="1630" y="489" width="41" height="11" fill="#0000ff" shape-rendering="crispEdges"/>
<text class="ax wl" x="1634.500" y="497.5" textLength="33" lengthAdjust="spacingAndGlyphs" fill="#fff" style="fill:#fff">1.20851</text>
<text class="ax" x="1632" y="592.5" textLength="38" lengthAdjust="spacingAndGlyphs">0.004301</text>
<text class="ax" x="1632" y="647.5" textLength="18" lengthAdjust="spacingAndGlyphs">0.00</text>
<text class="ax" x="1632" y="761.5" textLength="41" lengthAdjust="spacingAndGlyphs">-0.008651</text>
<text class="ax" x="1632" y="777.5" textLength="15" lengthAdjust="spacingAndGlyphs">100</text>
<text class="ax" x="1632" y="803.5" textLength="10" lengthAdjust="spacingAndGlyphs">80</text>
<text class="ax" x="1632" y="850.5" textLength="10" lengthAdjust="spacingAndGlyphs">50</text>
<text class="ax" x="1632" y="906.5" textLength="10" lengthAdjust="spacingAndGlyphs">15</text>
<text class="ax" x="1632" y="923.5" textLength="5" lengthAdjust="spacingAndGlyphs">0</text>
<g shape-rendering="crispEdges">
<rect x="0" y="644" width="1" height="16" fill="#c0c0c0"/>
<rect x="8" y="644" width="1" height="19" fill="#c0c0c0"/>
<rect x="16" y="644" width="1" height="19" fill="#c0c0c0"/>
<rect x="24" y="644" width="1" height="14" fill="#c0c0c0"/>
<rect x="32" y="644" width="1" height="8" fill="#c0c0c0"/>
<rect x="40" y="644" width="1" height="5" fill="#c0c0c0"/>
<rect x="48" y="644" width="1" height="3" fill="#c0c0c0"/>
<rect x="56" y="644" width="1" height="1" fill="#c0c0c0"/>
<rect x="88" y="644" width="1" height="1" fill="#c0c0c0"/>
<rect x="96" y="644" width="1" height="4" fill="#c0c0c0"/>
<rect x="104" y="644" width="1" height="6" fill="#c0c0c0"/>
<rect x="112" y="644" width="1" height="10" fill="#c0c0c0"/>
<rect x="120" y="644" width="1" height="12" fill="#c0c0c0"/>
<rect x="128" y="644" width="1" height="19" fill="#c0c0c0"/>
<rect x="136" y="644" width="1" height="24" fill="#c0c0c0"/>
<rect x="144" y="644" width="1" height="29" fill="#c0c0c0"/>
<rect x="152" y="644" width="1" height="34" fill="#c0c0c0"/>
<rect x="160" y="644" width="1" height="40" fill="#c0c0c0"/>
<rect x="168" y="644" width="1" height="48" fill="#c0c0c0"/>
<rect x="176" y="644" width="1" height="62" fill="#c0c0c0"/>
<rect x="184" y="644" width="1" height="73" fill="#c0c0c0"/>
<rect x="192" y="644" width="1" height="82" fill="#c0c0c0"/>
<rect x="200" y="644" width="1" height="94" fill="#c0c0c0"/>
<rect x="208" y="644" width="1" height="102" fill="#c0c0c0"/>
<rect x="216" y="644" width="1" height="106" fill="#c0c0c0"/>
<rect x="224" y="644" width="1" height="111" fill="#c0c0c0"/>
<rect x="232" y="644" width="1" height="112" fill="#c0c0c0"/>
<rect x="240" y="644" width="1" height="112" fill="#c0c0c0"/>
<rect x="248" y="644" width="1" height="111" fill="#c0c0c0"/>
<rect x="256" y="644" width="1" height="108" fill="#c0c0c0"/>
<rect x="264" y="644" width="1" height="103" fill="#c0c0c0"/>
<rect x="272" y="644" width="1" height="93" fill="#c0c0c0"/>
<rect x="280" y="644" width="1" height="90" fill="#c0c0c0"/>
<rect x="288" y="644" width="1" height="88" fill="#c0c0c0"/>
<rect x="296" y="644" width="1" height="89" fill="#c0c0c0"/>
<rect x="304" y="644" width="1" height="90" fill="#c0c0c0"/>
<rect x="312" y="644" width="1" height="89" fill="#c0c0c0"/>
<rect x="320" y="644" width="1" height="84" fill="#c0c0c0"/>
<rect x="328" y="644" width="1" height="79" fill="#c0c0c0"/>
<rect x="336" y="644" width="1" height="77" fill="#c0c0c0"/>
<rect x="344" y="644" width="1" height="78" fill="#c0c0c0"/>
<rect x="352" y="644" width="1" height="73" fill="#c0c0c0"/>
<rect x="360" y="644" width="1" height="69" fill="#c0c0c0"/>
<rect x="368" y="644" width="1" height="65" fill="#c0c0c0"/>
<rect x="376" y="644" width="1" height="58" fill="#c0c0c0"/>
<rect x="384" y="644" width="1" height="52" fill="#c0c0c0"/>
<rect x="392" y="644" width="1" height="48" fill="#c0c0c0"/>
<rect x="400" y="644" width="1" height="48" fill="#c0c0c0"/>
<rect x="408" y="644" width="1" height="42" fill="#c0c0c0"/>
<rect x="416" y="644" width="1" height="35" fill="#c0c0c0"/>
<rect x="424" y="644" width="1" height="34" fill="#c0c0c0"/>
<rect x="432" y="644" width="1" height="30" fill="#c0c0c0"/>
<rect x="440" y="644" width="1" height="26" fill="#c0c0c0"/>
<rect x="448" y="644" width="1" height="20" fill="#c0c0c0"/>
<rect x="456" y="644" width="1" height="16" fill="#c0c0c0"/>
<rect x="464" y="644" width="1" height="16" fill="#c0c0c0"/>
<rect x="472" y="644" width="1" height="14" fill="#c0c0c0"/>
<rect x="480" y="644" width="1" height="12" fill="#c0c0c0"/>
<rect x="488" y="644" width="1" height="11" fill="#c0c0c0"/>
<rect x="496" y="644" width="1" height="10" fill="#c0c0c0"/>
<rect x="504" y="644" width="1" height="11" fill="#c0c0c0"/>
<rect x="512" y="644" width="1" height="10" fill="#c0c0c0"/>
<rect x="520" y="644" width="1" height="11" fill="#c0c0c0"/>
<rect x="528" y="644" width="1" height="11" fill="#c0c0c0"/>
<rect x="536" y="644" width="1" height="9" fill="#c0c0c0"/>
<rect x="544" y="644" width="1" height="7" fill="#c0c0c0"/>
<rect x="552" y="644" width="1" height="8" fill="#c0c0c0"/>
<rect x="560" y="644" width="1" height="8" fill="#c0c0c0"/>
<rect x="568" y="644" width="1" height="9" fill="#c0c0c0"/>
<rect x="576" y="644" width="1" height="9" fill="#c0c0c0"/>
<rect x="584" y="644" width="1" height="9" fill="#c0c0c0"/>
<rect x="592" y="644" width="1" height="10" fill="#c0c0c0"/>
<rect x="600" y="644" width="1" height="18" fill="#c0c0c0"/>
<rect x="608" y="644" width="1" height="23" fill="#c0c0c0"/>
<rect x="616" y="644" width="1" height="29" fill="#c0c0c0"/>
<rect x="624" y="644" width="1" height="36" fill="#c0c0c0"/>
<rect x="632" y="644" width="1" height="42" fill="#c0c0c0"/>
<rect x="640" y="644" width="1" height="42" fill="#c0c0c0"/>
<rect x="648" y="644" width="1" height="39" fill="#c0c0c0"/>
<rect x="656" y="644" width="1" height="38" fill="#c0c0c0"/>
<rect x="664" y="644" width="1" height="35" fill="#c0c0c0"/>
<rect x="672" y="644" width="1" height="34" fill="#c0c0c0"/>
<rect x="680" y="644" width="1" height="33" fill="#c0c0c0"/>
<rect x="688" y="644" width="1" height="33" fill="#c0c0c0"/>
<rect x="696" y="644" width="1" height="29" fill="#c0c0c0"/>
<rect x="704" y="644" width="1" height="28" fill="#c0c0c0"/>
<rect x="712" y="644" width="1" height="28" fill="#c0c0c0"/>
<rect x="720" y="644" width="1" height="27" fill="#c0c0c0"/>
<rect x="728" y="644" width="1" height="26" fill="#c0c0c0"/>
<rect x="736" y="644" width="1" height="25" fill="#c0c0c0"/>
<rect x="744" y="644" width="1" height="23" fill="#c0c0c0"/>
<rect x="752" y="644" width="1" height="22" fill="#c0c0c0"/>
<rect x="760" y="644" width="1" height="22" fill="#c0c0c0"/>
<rect x="768" y="644" width="1" height="21" fill="#c0c0c0"/>
<rect x="776" y="644" width="1" height="20" fill="#c0c0c0"/>
<rect x="784" y="644" width="1" height="16" fill="#c0c0c0"/>
<rect x="792" y="644" width="1" height="8" fill="#c0c0c0"/>
<rect x="800" y="644" width="1" height="4" fill="#c0c0c0"/>
<rect x="832" y="641" width="1" height="3" fill="#c0c0c0"/>
<rect x="840" y="633" width="1" height="11" fill="#c0c0c0"/>
<rect x="848" y="628" width="1" height="16" fill="#c0c0c0"/>
<rect x="856" y="625" width="1" height="19" fill="#c0c0c0"/>
<rect x="864" y="622" width="1" height="22" fill="#c0c0c0"/>
<rect x="872" y="620" width="1" height="24" fill="#c0c0c0"/>
<rect x="880" y="621" width="1" height="23" fill="#c0c0c0"/>
<rect x="888" y="624" width="1" height="20" fill="#c0c0c0"/>
<rect x="896" y="624" width="1" height="20" fill="#c0c0c0"/>
<rect x="904" y="626" width="1" height="18" fill="#c0c0c0"/>
<rect x="912" y="627" width="1" height="17" fill="#c0c0c0"/>
<rect x="920" y="628" width="1" height="16" fill="#c0c0c0"/>
<rect x="928" y="634" width="1" height="10" fill="#c0c0c0"/>
<rect x="936" y="639" width="1" height="5" fill="#c0c0c0"/>
<rect x="944" y="636" width="1" height="8" fill="#c0c0c0"/>
<rect x="952" y="631" width="1" height="13" fill="#c0c0c0"/>
<rect x="960" y="628" width="1" height="16" fill="#c0c0c0"/>
<rect x="968" y="627" width="1" height="17" fill="#c0c0c0"/>
<rect x="976" y="630" width="1" height="14" fill="#c0c0c0"/>
<rect x="984" y="631" width="1" height="13" fill="#c0c0c0"/>
<rect x="992" y="632" width="1" height="12" fill="#c0c0c0"/>
<rect x="1000" y="633" width="1" height="11" fill="#c0c0c0"/>
<rect x="1008" y="635" width="1" height="9" fill="#c0c0c0"/>
<rect x="1016" y="637" width="1" height="7" fill="#c0c0c0"/>
<rect x="1024" y="637" width="1" height="7" fill="#c0c0c0"/>
<rect x="1032" y="636" width="1" height="8" fill="#c0c0c0"/>
<rect x="1040" y="624" width="1" height="20" fill="#c0c0c0"/>
<rect x="1048" y="614" width="1" height="30" fill="#c0c0c0"/>
<rect x="1056" y="607" width="1" height="37" fill="#c0c0c0"/>
<rect x="1064" y="604" width="1" height="40" fill="#c0c0c0"/>
<rect x="1072" y="606" width="1" height="38" fill="#c0c0c0"/>
<rect x="1080" y="605" width="1" height="39" fill="#c0c0c0"/>
<rect x="1088" y="601" width="1" height="43" fill="#c0c0c0"/>
<rect x="1096" y="595" width="1" height="49" fill="#c0c0c0"/>
<rect x="1104" y="594" width="1" height="50" fill="#c0c0c0"/>
<rect x="1112" y="593" width="1" height="51" fill="#c0c0c0"/>
<rect x="1120" y="595" width="1" height="49" fill="#c0c0c0"/>
<rect x="1128" y="599" width="1" height="45" fill="#c0c0c0"/>
<rect x="1136" y="602" width="1" height="42" fill="#c0c0c0"/>
<rect x="1144" y="607" width="1" height="37" fill="#c0c0c0"/>
<rect x="1152" y="611" width="1" height="33" fill="#c0c0c0"/>
<rect x="1160" y="615" width="1" height="29" fill="#c0c0c0"/>
<rect x="1168" y="615" width="1" height="29" fill="#c0c0c0"/>
<rect x="1176" y="613" width="1" height="31" fill="#c0c0c0"/>
<rect x="1184" y="610" width="1" height="34" fill="#c0c0c0"/>
<rect x="1192" y="608" width="1" height="36" fill="#c0c0c0"/>
<rect x="1200" y="607" width="1" height="37" fill="#c0c0c0"/>
<rect x="1208" y="608" width="1" height="36" fill="#c0c0c0"/>
<rect x="1216" y="610" width="1" height="34" fill="#c0c0c0"/>
<rect x="1224" y="619" width="1" height="25" fill="#c0c0c0"/>
<rect x="1232" y="621" width="1" height="23" fill="#c0c0c0"/>
<rect x="1240" y="628" width="1" height="16" fill="#c0c0c0"/>
<rect x="1248" y="632" width="1" height="12" fill="#c0c0c0"/>
<rect x="1256" y="637" width="1" height="7" fill="#c0c0c0"/>
<rect x="1264" y="642" width="1" height="2" fill="#c0c0c0"/>
<rect x="1272" y="643" width="1" height="1" fill="#c0c0c0"/>
<rect x="1280" y="644" width="1" height="1" fill="#c0c0c0"/>
<rect x="1288" y="644" width="1" height="6" fill="#c0c0c0"/>
<rect x="1296" y="644" width="1" height="9" fill="#c0c0c0"/>
<rect x="1304" y="644" width="1" height="12" fill="#c0c0c0"/>
<rect x="1312" y="644" width="1" height="15" fill="#c0c0c0"/>
<rect x="1320" y="644" width="1" height="15" fill="#c0c0c0"/>
<rect x="1328" y="644" width="1" height="18" fill="#c0c0c0"/>
<rect x="1336" y="644" width="1" height="21" fill="#c0c0c0"/>
</g>
<polyline points="0.0,652.3 7.5,654.8 15.0,656.6 30.0,658.4 45.0,656.6 60.0,654.8 72.8,652.3 85.4,649.0 95.4,647.3 110.5,647.8 125.5,649.8 140.6,654.8 155.7,661.6 170.7,670.4 185.8,683.0 200.9,698.5 215.9,714.3 231.0,730.7 246.0,743.2 256.0,748.7 264.9,751.5 273.7,750.2 288.7,747.0 306.3,742.0 321.4,737.7 336.4,731.9 351.5,727.6 366.6,723.1 381.6,716.9 396.7,709.3 411.8,701.8 420.0,696.8 432.6,690.5 445.0,683.0 455.0,677.4 470.0,671.7 485.3,664.9 500.3,659.9 520.4,656.6 540.5,654.8 560.6,653.6 593.2,653.6 608.3,655.8 620.9,660.4 633.4,665.9 646.0,671.7 658.5,676.2 671.0,679.2 686.0,681.5 701.2,679.2 716.3,677.2 731.3,674.2 746.4,672.2 761.4,670.4 779.0,668.4 791.6,664.9 801.6,661.6 814.2,657.4 826.7,654.0 840.0,648.6 850.0,642.8 862.6,636.5 875.0,632.7 887.7,627.7 900.3,625.2 912.8,623.2 925.4,623.5 935.4,626.5 950.5,629.0 970.6,630.2 990.6,631.5 1010.7,630.7 1030.8,632.2 1045.9,630.7 1058.4,626.5 1071.0,622.0 1083.5,616.4 1096.0,608.9 1108.6,602.6 1121.2,599.4 1136.3,598.3 1153.8,598.3 1166.4,601.4 1179.0,605.1 1191.5,608.1 1206.6,609.4 1221.6,610.9 1241.7,613.2 1254.3,617.7 1260.0,619.7 1270.0,625.2 1282.6,631.5 1295.2,637.8 1307.7,643.5 1320.3,649.6 1327.8,652.8 1334.0,653.6" fill="none" stroke="#ff0000" stroke-width="1" stroke-dasharray="3 3" shape-rendering="crispEdges"/>
<text x="4" y="595" textLength="154" lengthAdjust="spacingAndGlyphs">MACD(12,26,9) -0.001521 -0.000798</text>
<g shape-rendering="crispEdges">
<line x1="0" y1="800.5" x2="1628" y2="800.5" stroke="#c0c0c0" stroke-width="1" stroke-dasharray="3 3"/>
<line x1="0" y1="847.5" x2="1628" y2="847.5" stroke="#c0c0c0" stroke-width="1" stroke-dasharray="3 3"/>
<line x1="0" y1="903.5" x2="1628" y2="903.5" stroke="#c0c0c0" stroke-width="1" stroke-dasharray="3 3"/>
</g>
<polyline points="0.0,864.5 8.0,867.8 16.0,859.0 24.0,837.5 32.0,837.5 40.0,843.5 48.0,842.2 56.0,848.2 64.0,845.2 72.0,842.2 80.0,850.3 88.0,858.5 96.0,857.3 104.0,860.3 112.0,867.8 120.0,864.5 128.0,878.3 136.0,879.6 144.0,881.1 152.0,884.6 160.0,890.4 168.0,895.9 176.0,904.2 184.0,905.4 192.0,905.4 200.0,910.4 208.0,907.4 216.0,901.2 224.0,903.4 232.0,898.7 240.0,898.4 248.0,899.7 256.0,892.9 264.0,886.6 272.0,865.3 280.0,877.1 288.0,879.6 296.0,884.1 304.0,886.6 312.0,883.4 320.0,872.8 328.0,869.3 336.0,875.3 344.0,881.6 352.0,866.3 360.0,867.3 368.0,865.3 376.0,856.5 384.0,858.3 392.0,859.5 400.0,868.3 408.0,851.3 416.0,851.5 424.0,856.0 432.0,852.3 440.0,850.3 448.0,843.2 456.0,846.5 464.0,854.0 472.0,850.3 480.0,847.2 488.0,851.5 496.0,850.3 504.0,856.0 512.0,852.0 520.0,856.5 528.0,857.3 536.0,846.0 544.0,844.5 552.0,855.3 560.0,857.3 568.0,855.3 576.0,854.0 584.0,856.0 592.0,859.0 600.0,876.0 608.0,871.6 616.0,878.6 624.0,885.4 632.0,878.3 640.0,866.6 648.0,859.5 656.0,862.3 664.0,860.5 672.0,859.5 680.0,863.3 688.0,863.3 696.0,854.5 704.0,860.3 712.0,863.5 720.0,860.5 728.0,863.5 736.0,859.5 744.0,856.5 752.0,857.5 760.0,863.3 768.0,858.5 776.0,861.3 784.0,847.7 792.0,828.7 800.0,838.5 808.0,837.2 816.0,846.0 824.0,847.2 832.0,836.5 840.0,823.2 848.0,830.7 856.0,829.4 864.0,828.4 872.0,830.2 880.0,838.5 888.0,845.2 896.0,839.5 904.0,841.2 912.0,843.5 920.0,841.2 928.0,857.3 936.0,860.8 944.0,836.5 952.0,831.4 960.0,834.5 968.0,836.5 976.0,845.2 984.0,846.5 992.0,842.2 1000.0,847.7 1008.0,846.2 1016.0,848.2 1024.0,844.0 1032.0,839.0 1040.0,814.6 1048.0,812.9 1056.0,815.2 1064.0,824.0 1072.0,835.2 1080.0,829.0 1088.0,822.2 1096.0,817.7 1104.0,827.2 1112.0,825.4 1120.0,832.2 1128.0,835.2 1136.0,839.0 1144.0,842.2 1152.0,842.2 1160.0,846.5 1168.0,834.5 1176.0,829.4 1184.0,825.4 1192.0,825.4 1200.0,828.2 1208.0,832.0 1216.0,839.5 1224.0,854.5 1232.0,843.5 1240.0,853.3 1248.0,851.3 1256.0,854.8 1264.0,858.5 1272.0,850.3 1280.0,856.0 1288.0,860.5 1296.0,859.3 1304.0,861.3 1312.0,861.3 1320.0,857.3 1328.0,863.3 1336.0,866.6" fill="none" stroke="#1e90ff" stroke-width="1" shape-rendering="crispEdges"/>
<text x="4" y="780" textLength="68" lengthAdjust="spacingAndGlyphs">RSI(14) 37.9342</text>
<g shape-rendering="crispEdges">
<rect x="0" y="928" width="1" height="4" fill="#000"/>
<rect x="64" y="928" width="1" height="4" fill="#000"/>
<rect x="128" y="928" width="1" height="4" fill="#000"/>
<rect x="192" y="928" width="1" height="4" fill="#000"/>
<rect x="256" y="928" width="1" height="4" fill="#000"/>
<rect x="320" y="928" width="1" height="4" fill="#000"/>
<rect x="384" y="928" width="1" height="4" fill="#000"/>
<rect x="448" y="928" width="1" height="4" fill="#000"/>
<rect x="512" y="928" width="1" height="4" fill="#000"/>
<rect x="576" y="928" width="1" height="4" fill="#000"/>
<rect x="640" y="928" width="1" height="4" fill="#000"/>
<rect x="704" y="928" width="1" height="4" fill="#000"/>
<rect x="768" y="928" width="1" height="4" fill="#000"/>
<rect x="832" y="928" width="1" height="4" fill="#000"/>
<rect x="896" y="928" width="1" height="4" fill="#000"/>
<rect x="960" y="928" width="1" height="4" fill="#000"/>
<rect x="1024" y="928" width="1" height="4" fill="#000"/>
<rect x="1088" y="928" width="1" height="4" fill="#000"/>
<rect x="1152" y="928" width="1" height="4" fill="#000"/>
<rect x="1216" y="928" width="1" height="4" fill="#000"/>
<rect x="1280" y="928" width="1" height="4" fill="#000"/>
</g>
<text x="0" y="940" style="font-size:9.400px">23 Jul 2019</text>
<text x="63.5" y="940" style="font-size:9.400px">25 Jul 04:00</text>
<text x="127.5" y="940" style="font-size:9.400px">26 Jul 12:00</text>
<text x="191.5" y="940" style="font-size:9.400px">29 Jul 20:00</text>
<text x="255.5" y="940" style="font-size:9.400px">31 Jul 04:00</text>
<text x="319.5" y="940" style="font-size:9.400px">1 Aug 12:00</text>
<text x="383.5" y="940" style="font-size:9.400px">4 Aug 23:00</text>
<text x="447.5" y="940" style="font-size:9.400px">6 Aug 04:00</text>
<text x="511.5" y="940" style="font-size:9.400px">7 Aug 12:00</text>
<text x="575.5" y="940" style="font-size:9.400px">8 Aug 20:00</text>
<text x="639.5" y="940" style="font-size:9.400px">12 Aug 04:00</text>
<text x="703.5" y="940" style="font-size:9.400px">13 Aug 12:00</text>
<text x="767.5" y="940" style="font-size:9.400px">14 Aug 20:00</text>
<text x="831.5" y="940" style="font-size:9.400px">16 Aug 04:00</text>
<text x="895.5" y="940" style="font-size:9.400px">19 Aug 12:00</text>
<text x="959.5" y="940" style="font-size:9.400px">20 Aug 20:00</text>
<text x="1023.5" y="940" style="font-size:9.400px">22 Aug 04:00</text>
<text x="1087.5" y="940" style="font-size:9.400px">23 Aug 12:00</text>
<text x="1151.5" y="940" style="font-size:9.400px">26 Aug 20:00</text>
<text x="1215.5" y="940" style="font-size:9.400px">28 Aug 04:00</text>
<text x="1279.5" y="940" style="font-size:9.400px">29 Aug 12:00</text>
<g id="toolbar">
<g shape-rendering="crispEdges">
<rect x="0" y="0" width="1675" height="23" fill="#f0f0f0"/>
<rect x="0" y="23" width="1675" height="1" fill="#a0a0a0"/><rect x="0" y="24" width="1675" height="1" fill="#696969"/><rect x="0" y="25" width="1675" height="2" fill="#fff"/>
<rect x="225" y="1" width="1" height="21" fill="#a0a0a0"/><rect x="226" y="1" width="1" height="21" fill="#fff"/>
<rect x="320" y="1" width="1" height="21" fill="#a0a0a0"/><rect x="321" y="1" width="1" height="21" fill="#fff"/>
<rect x="410" y="1" width="1" height="21" fill="#a0a0a0"/><rect x="411" y="1" width="1" height="21" fill="#fff"/>
<rect x="472" y="1" width="1" height="21" fill="#a0a0a0"/><rect x="473" y="1" width="1" height="21" fill="#fff"/>
<rect x="593" y="1" width="1" height="21" fill="#a0a0a0"/><rect x="594" y="1" width="1" height="21" fill="#fff"/>
<rect x="660" y="1" width="1" height="21" fill="#a0a0a0"/><rect x="661" y="1" width="1" height="21" fill="#fff"/>
<rect x="899" y="1" width="1" height="21" fill="#a0a0a0"/><rect x="900" y="1" width="1" height="21" fill="#fff"/>
<rect x="1160" y="1" width="1" height="21" fill="#a0a0a0"/><rect x="1161" y="1" width="1" height="21" fill="#fff"/>
<rect x="229" y="2" width="3" height="1" fill="#b0b0b0"/>
<rect x="229" y="4" width="3" height="1" fill="#b0b0b0"/>
<rect x="229" y="6" width="3" height="1" fill="#b0b0b0"/>
<rect x="229" y="8" width="3" height="1" fill="#b0b0b0"/>
<rect x="229" y="10" width="3" height="1" fill="#b0b0b0"/>
<rect x="229" y="12" width="3" height="1" fill="#b0b0b0"/>
<rect x="229" y="14" width="3" height="1" fill="#b0b0b0"/>
<rect x="229" y="16" width="3" height="1" fill="#b0b0b0"/>
<rect x="229" y="18" width="3" height="1" fill="#b0b0b0"/>
<rect x="229" y="20" width="3" height="1" fill="#b0b0b0"/>
<rect x="597" y="2" width="3" height="1" fill="#b0b0b0"/>
<rect x="597" y="4" width="3" height="1" fill="#b0b0b0"/>
<rect x="597" y="6" width="3" height="1" fill="#b0b0b0"/>
<rect x="597" y="8" width="3" height="1" fill="#b0b0b0"/>
<rect x="597" y="10" width="3" height="1" fill="#b0b0b0"/>
<rect x="597" y="12" width="3" height="1" fill="#b0b0b0"/>
<rect x="597" y="14" width="3" height="1" fill="#b0b0b0"/>
<rect x="597" y="16" width="3" height="1" fill="#b0b0b0"/>
<rect x="597" y="18" width="3" height="1" fill="#b0b0b0"/>
<rect x="597" y="20" width="3" height="1" fill="#b0b0b0"/>
<rect x="903" y="2" width="3" height="1" fill="#b0b0b0"/>
<rect x="903" y="4" width="3" height="1" fill="#b0b0b0"/>
<rect x="903" y="6" width="3" height="1" fill="#b0b0b0"/>
<rect x="903" y="8" width="3" height="1" fill="#b0b0b0"/>
<rect x="903" y="10" width="3" height="1" fill="#b0b0b0"/>
<rect x="903" y="12" width="3" height="1" fill="#b0b0b0"/>
<rect x="903" y="14" width="3" height="1" fill="#b0b0b0"/>
<rect x="903" y="16" width="3" height="1" fill="#b0b0b0"/>
<rect x="903" y="18" width="3" height="1" fill="#b0b0b0"/>
<rect x="903" y="20" width="3" height="1" fill="#b0b0b0"/>
<rect x="264" y="1" width="24" height="21" fill="url(#chk)"/><rect x="263" y="1" width="1" height="21" fill="#a0a0a0"/>
<rect x="415" y="1" width="25" height="21" fill="url(#chk)"/><rect x="414" y="1" width="1" height="21" fill="#a0a0a0"/>
<rect x="444" y="1" width="24" height="21" fill="url(#chk)"/><rect x="443" y="1" width="1" height="21" fill="#a0a0a0"/>
<rect x="604" y="1" width="24" height="21" fill="url(#chk)"/><rect x="603" y="1" width="1" height="21" fill="#a0a0a0"/>
<rect x="1050" y="1" width="24" height="21" fill="url(#chk)"/><rect x="1049" y="1" width="1" height="21" fill="#a0a0a0"/>
</g>
<path d="M-1 3.500 H7.500 L10.500 6.500 V16.500 H-1 Z" fill="#fff" stroke="#9a9a9a"/><path d="M7.500 3.500 V6.500 H10.500" fill="#ddd" stroke="#9a9a9a"/>
<rect x="1" y="5.500" width="3" height="1.500" fill="#888"/><rect x="0" y="9" width="8" height="1" fill="#aaa"/><rect x="0" y="11.500" width="5" height="1" fill="#aaa"/>
<path d="M7.300 10 H10.700 V13.800 H14.800 V17.200 H10.700 V21.300 H7.300 V17.200 H3.200 V13.800 H7.300 Z" fill="#2fd02f" stroke="#129a12" stroke-width="0.900"/><path d="M8 11 V14.500 H4.200" stroke="#8af08a" stroke-width="0.800" fill="none"/>
<text class="cn" x="17.500" y="14.500" textLength="36.500" lengthAdjust="spacingAndGlyphs">新订单</text>
<path d="M71 4 L82 12 L74.500 18.500 L66 12.800 Z" fill="#e3ac18" stroke="#a87408" stroke-width="0.900"/><path d="M70.800 5.800 L78.500 11.600 L73.500 15.800 L67.500 11.800 Z" fill="#f8dc60"/><path d="M66 12.800 L74.500 18.500 L82 12 L82 13.800 L74.500 20 L66 14.300 Z" fill="#b8841a"/><path d="M67 13.800 L74.500 18.800 L81 13.300" stroke="#f4e4a0" stroke-width="0.700" fill="none"/>
<path d="M96.500 4 L104 3 L107.500 5 V13 H96.500 Z" fill="#2a8af0" stroke="#1660c0" stroke-width="0.8"/><rect x="100" y="6" width="6" height="1.500" fill="#cfe4ff"/><rect x="100" y="9" width="6" height="1.200" fill="#9cc8ff"/>
<path d="M96 18.500 a3 3 0 0 1 0.500 -5.800 a3.500 3.500 0 0 1 6 -1.200 a3 3 0 0 1 4.500 1.800 a2.700 2.700 0 0 1 0.500 5.200 Z" fill="#eef2fa" stroke="#6f8fc8" stroke-width="0.9"/>
<circle cx="130" cy="11" r="7.300" fill="#f4f8ff" stroke="#a9bde6" stroke-width="1.200"/><circle cx="130" cy="11" r="4.600" fill="none" stroke="#6d8fdc" stroke-width="1.300"/><circle cx="130" cy="10.500" r="1.700" fill="#2a50d0"/><path d="M130 11 V19 Q133 19 135.500 16" stroke="#2aa33a" stroke-width="1.800" fill="none"/>
<path d="M150 9 L164 9 L161 16 L154.500 18 Z" fill="#f2c730" stroke="#c89a10" stroke-width="0.700"/><ellipse cx="157" cy="7.500" rx="8" ry="3" fill="#3f86e0"/><ellipse cx="157" cy="5.500" rx="4.500" ry="2.800" fill="#5ba2f0"/>
<circle cx="161.500" cy="14.800" r="4" fill="#d82010"/><rect x="160" y="13.300" width="3" height="3" fill="#fff"/>
<text class="cn" x="170.500" y="14.500" textLength="46.500" lengthAdjust="spacingAndGlyphs">自动交易</text>
<g stroke="#505050" stroke-width="1.2" fill="none"><path d="M244.5 4.5 V18.5 M241 16 H255"/></g><path d="M243 6.500 L244.5 3.500 L246 6.500 Z M253 14.500 L256 16 L253 17.500 Z" fill="#505050"/>
<path d="M248 13 H250.500 V6.500 H253" fill="none" stroke="#22a022" stroke-width="1.500"/>
<g stroke="#505050" stroke-width="1.2" fill="none"><path d="M272.5 4.5 V18.5 M269 16 H283"/></g><path d="M271 6.500 L272.5 3.500 L274 6.500 Z M281 14.500 L284 16 L281 17.500 Z" fill="#505050"/>
<path d="M277.500 3 V15.500" stroke="#0b7a0b" stroke-width="1"/><rect x="275.500" y="5.500" width="4" height="7.500" fill="#22cc22" stroke="#0b7a0b" stroke-width="0.800"/>
<g stroke="#505050" stroke-width="1.2" fill="none"><path d="M300.5 4.5 V18.5 M297 16 H311"/></g><path d="M299 6.500 L300.5 3.500 L302 6.500 Z M309 14.500 L312 16 L309 17.500 Z" fill="#505050"/>
<path d="M300.500 14 Q304.500 4.500 306.500 8 L310 11.500" fill="none" stroke="#22a022" stroke-width="1.300"/>
<path d="M339.0 12 L344.0 17.500" stroke="#d9a520" stroke-width="2.800" stroke-linecap="round"/><circle cx="335.5" cy="8.300" r="5.200" fill="#d6eafc" stroke="#3a7ad0" stroke-width="1.400"/><path d="M332.7 8.300 H338.3" stroke="#2a62c0" stroke-width="1.600"/>
<path d="M335.5 5.500 V11.100" stroke="#2a62c0" stroke-width="1.600"/>
<path d="M367.0 12 L372.0 17.500" stroke="#d9a520" stroke-width="2.800" stroke-linecap="round"/><circle cx="363.5" cy="8.300" r="5.200" fill="#d6eafc" stroke="#3a7ad0" stroke-width="1.400"/><path d="M360.7 8.300 H366.3" stroke="#2a62c0" stroke-width="1.600"/>
<rect x="385" y="3" width="8" height="8" fill="#3aa528"/><rect x="386.5" y="6.5" width="5" height="3" fill="#e8f0ff"/>
<rect x="393" y="3" width="8" height="8" fill="#2a5ad8"/><rect x="394.5" y="6.5" width="5" height="3" fill="#e8f0ff"/>
<rect x="385" y="11" width="8" height="8" fill="#2a5ad8"/><rect x="386.5" y="14.5" width="5" height="3" fill="#e8f0ff"/>
<rect x="393" y="11" width="8" height="8" fill="#3aa528"/><rect x="394.5" y="14.5" width="5" height="3" fill="#e8f0ff"/>
<g stroke="#505050" stroke-width="1.2" fill="none"><path d="M424.5 4.5 V18.5 M421 16 H435"/></g><path d="M423 6.500 L424.5 3.500 L426 6.500 Z M433 14.500 L436 16 L433 17.500 Z" fill="#505050"/>
<path d="M428.500 6 V14.500 L433 10.200 Z" fill="#2ab030" stroke="#158a20" stroke-width="0.600"/>
<g stroke="#505050" stroke-width="1.2" fill="none"><path d="M452.5 4.5 V18.5 M449 16 H463"/></g><path d="M451 6.500 L452.5 3.500 L454 6.500 Z M461 14.500 L464 16 L461 17.500 Z" fill="#505050"/>
<path d="M457.500 4.500 V15" stroke="#1a6ab0" stroke-width="1.300"/><path d="M459 10 L463 7.500 V12.500 Z" fill="#d83a10"/><path d="M459 10 H464" stroke="#d83a10" stroke-width="1"/>
<path d="M483.500 3.500 H490 L493 6.500 V15.500 H483.500 Z" fill="#fff" stroke="#8a8a8a"/><path d="M486 6 h2 M485.500 6 v7" stroke="#777" stroke-width="0.800" fill="none"/>
<path d="M490.300 9.800 H493.700 V13.600 H497.800 V17 H493.700 V21.100 H490.300 V17 H486.200 V13.600 H490.300 Z" fill="#2fd02f" stroke="#129a12" stroke-width="0.900"/><path d="M491 10.800 V14.300 H487.200" stroke="#8af08a" stroke-width="0.800" fill="none"/>
<path d="M504 9.800 L509.5 9.800 L506.75 12.800 Z" fill="#000"/>
<circle cx="528" cy="11" r="8" fill="#1d6fe0" stroke="#0d48a8" stroke-width="1"/><circle cx="528" cy="11" r="5.300" fill="#f2f6ff"/><path d="M528 7 V11.300 H531" stroke="#555" stroke-width="1" fill="none"/>
<path d="M543 9.800 L548.5 9.800 L545.75 12.800 Z" fill="#000"/>
<rect x="559.500" y="4.500" width="15.500" height="13.500" fill="#fff" stroke="#3a78d0" stroke-width="1"/><rect x="559.500" y="4.500" width="15.500" height="2.500" fill="#3a78d0"/><path d="M560 12.200 H575" stroke="#7aa0e0" stroke-width="0.800"/><path d="M561.500 10.500 L564.500 9.300 L566.500 10 L569 8.500 L571 9.300 L573.500 8" stroke="#c03010" stroke-width="1.200" fill="none"/><path d="M561.500 16 L564.500 14.800 L566.500 15.800 L569 13.800 L571 15 L573.500 14" stroke="#22a022" stroke-width="1.200" fill="none"/>
<path d="M582 9.800 L587.5 9.800 L584.75 12.800 Z" fill="#000"/>
<path d="M611 3.800 V16.500 L614 13.700 L616.300 18.400 L618.300 17.400 L616 12.900 L620 12.900 Z" fill="#484848"/>
<path d="M636 11.500 H642 M645.500 11.500 H651.500 M643.500 4 V10 M643.500 13 V19" stroke="#505050" stroke-width="1.200"/>
<path d="M677.500 5 V17.500 M700 11.500 H712" stroke="#505050" stroke-width="1.200"/><path d="M727.500 17.500 L740 5.600" stroke="#505050" stroke-width="1.200"/>
<g stroke="#505050" stroke-width="1" fill="none"><path d="M754 13 L767 4 M755 17 L768 8"/><path d="M757.500 10 L759 16 M760.500 8 L762 14 M763.500 6 L765 12 M766 4 L767 9" stroke-width="0.900"/></g>
<text x="764.500" y="19.500" style="font-size:6.500px;font-weight:700;fill:#404040">E</text>
<g stroke="#606060" stroke-width="1" stroke-dasharray="1 1"><path d="M783 4.500 H796.500 M783 7.500 H796.500 M783 10 H796.500 M783 12.500 H796.500 M783 15.500 H791"/></g>
<text x="792.500" y="19.500" style="font-size:6.500px;font-weight:700;fill:#404040">F</text>
<text x="813" y="16" style="font-size:13px;fill:#5a5a5a;font-weight:700" textLength="9">A</text>
<rect x="839.500" y="5" width="12" height="12.500" fill="none" stroke="#606060" stroke-width="1" stroke-dasharray="1 1"/><text x="841.700" y="15.800" style="font-size:11.500px;font-weight:700;fill:#505050">T</text>
<path d="M867 8.500 L870.500 5 L874 8.500 L870.500 10 Z M874 14.500 L877.500 12.500 L881 14.500 L877.500 18 Z" fill="#484848"/><path d="M869 12 L871.500 14.500 L876.500 8.500" stroke="#484848" stroke-width="1.300" fill="none"/>
<path d="M888 9.800 L893.5 9.800 L890.75 12.800 Z" fill="#000"/>
<text class="tf" x="914" y="15.100" textLength="14" lengthAdjust="spacingAndGlyphs">M1</text>
<text class="tf" x="942" y="15.100" textLength="13.5" lengthAdjust="spacingAndGlyphs">M5</text>
<text class="tf" x="968" y="15.100" textLength="19" lengthAdjust="spacingAndGlyphs">M15</text>
<text class="tf" x="996" y="15.100" textLength="18.5" lengthAdjust="spacingAndGlyphs">M30</text>
<text class="tf" x="1027" y="15.100" textLength="12.5" lengthAdjust="spacingAndGlyphs">H1</text>
<text class="tf" x="1054.5" y="15.100" textLength="13.3" lengthAdjust="spacingAndGlyphs">H4</text>
<text class="tf" x="1083" y="15.100" textLength="13" lengthAdjust="spacingAndGlyphs">D1</text>
<text class="tf" x="1111" y="15.100" textLength="14.5" lengthAdjust="spacingAndGlyphs">W1</text>
<text class="tf" x="1137.5" y="15.100" textLength="15.5" lengthAdjust="spacingAndGlyphs">MN</text>
<path d="M1623 15 L1627.800 11" stroke="#2f5fd0" stroke-width="2.200" stroke-linecap="round"/><circle cx="1630.500" cy="8" r="3.800" fill="#f4f8ff" stroke="#2456d8" stroke-width="1.400"/>
<path d="M1655 9 a7.500 5 0 1 1 5 4.700 l-2.500 2.300 l0.300 -2.800 a7.500 5 0 0 1 -2.800 -4.200 Z" fill="#ececec" stroke="#9a9a9a" stroke-width="0.900"/><path d="M1649.500 13 a5.500 3.800 0 1 1 4 3.600 l-2.200 1.900 l0.200 -2.300 a5.500 3.800 0 0 1 -2 -3.200 Z" fill="#f8f8f8" stroke="#9a9a9a" stroke-width="0.900"/>
</g>
</svg></body></html>
